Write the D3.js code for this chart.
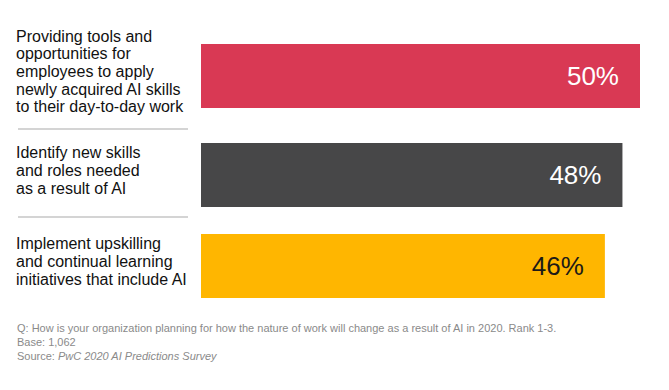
<!DOCTYPE html>
<html><head><meta charset="utf-8">
<script src="https://cdn.jsdelivr.net/npm/d3@7"></script>
<style>body{margin:0;background:#fff;font-family:"Liberation Sans",Arial,Helvetica,sans-serif;}</style>
</head><body><svg id="c" width="669" height="390"></svg>
<script>
const categories = [
  ["Providing tools and","opportunities for","employees to apply","newly acquired AI skills","to their day-to-day work"],
  ["Identify new skills","and roles needed","as a result of AI"],
  ["Implement upskilling","and continual learning","initiatives that include AI"]
];
const values = [50, 48, 46];
const colors = ["#D93954", "#474748", "#FFB600"];
const labelColors = ["#ffffff", "#ffffff", "#1c1a17"];
const footer = ["Q: How is your organization planning for how the nature of work will change as a result of AI in 2020. Rank 1-3.", "Base: 1,062"];

const svg = d3.select("#c");
const x = d3.scaleLinear().domain([0, 50]).range([201, 640]);
const ys = [44, 143, 234];
const bh = 64;

const g = svg.selectAll("g.row").data(values).enter().append("g");
g.append("rect")
  .attr("x", x(0)).attr("y", (d,i)=>ys[i])
  .attr("width", d=>x(d)-x(0)).attr("height", bh)
  .attr("fill", (d,i)=>colors[i]);
g.append("text")
  .attr("x", d=>x(d)-21).attr("y", (d,i)=>ys[i]+bh/2+9)
  .attr("text-anchor","end").attr("font-size",26)
  .attr("fill",(d,i)=>labelColors[i])
  .text(d=>d+"%");

categories.forEach((lines,i)=>{
  const cy = ys[i]+bh/2;
  const lh = 17.7;
  const t = svg.append("text").attr("font-size",16).attr("fill","#111");
  lines.forEach((l,j)=>{
    t.append("tspan").attr("x",16).attr("y", cy - (lines.length-1)*lh/2 + j*lh + 1).text(l);
  });
});

[129, 217].forEach(yy=>{
  svg.append("line").attr("x1",18).attr("x2",188).attr("y1",yy).attr("y2",yy)
    .attr("stroke","#aaa").attr("stroke-width",1.2);
});

footer.forEach((f,i)=>{
  svg.append("text").attr("x",17).attr("y",332+i*14).attr("font-size",11).attr("fill","#8a8a8a").text(f);
});
const s = svg.append("text").attr("x",17).attr("y",360).attr("font-size",11).attr("fill","#8a8a8a");
s.append("tspan").text("Source: ");
s.append("tspan").attr("font-style","italic").text("PwC 2020 AI Predictions Survey");
</script></body></html>
